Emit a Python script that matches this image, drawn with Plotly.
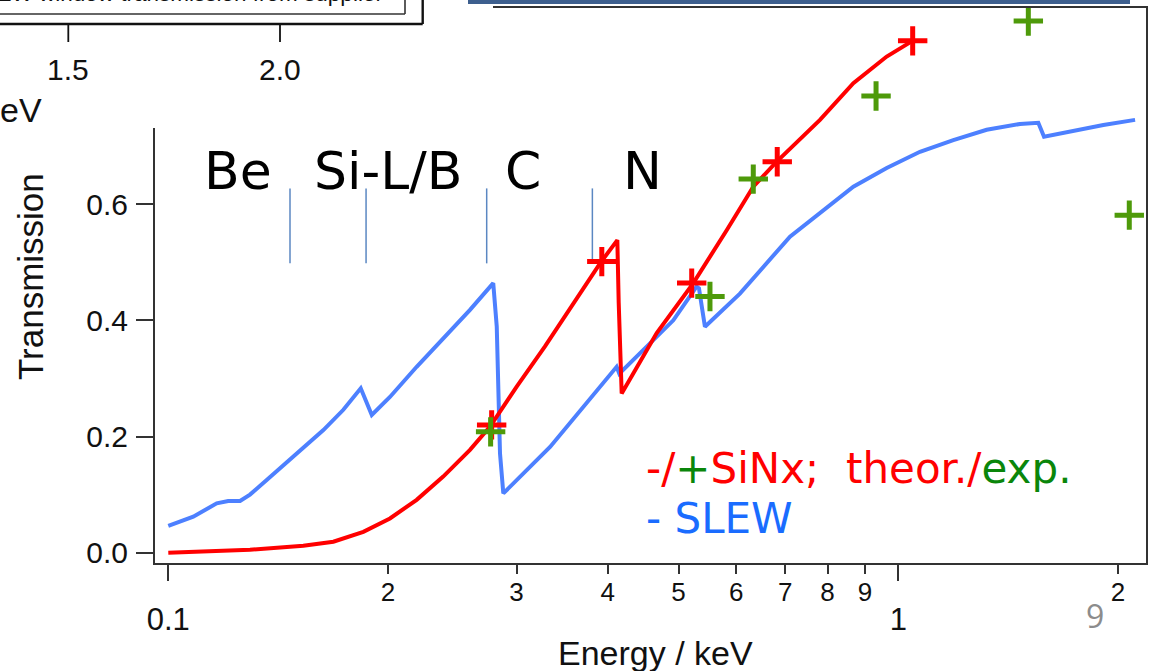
import numpy as np
import plotly.graph_objects as go

# ---------------- data ----------------
slew_E = [0.1000, 0.1082, 0.1165, 0.1208, 0.1254, 0.1294, 0.1364, 0.1483, 0.1631, 0.1737,
          0.1835, 0.1900, 0.2012, 0.2189, 0.2380, 0.2590, 0.2787, 0.2818, 0.2847, 0.2877,
          0.3334, 0.3588, 0.4113, 0.4148, 0.4428, 0.4918, 0.5293, 0.5333, 0.5434, 0.6068,
          0.7106, 0.8320, 0.8678, 0.9641, 1.0707, 1.1895, 1.3214, 1.4677, 1.5552, 1.5835,
          1.7190, 1.9094, 2.1103]
slew_T = [0.046, 0.062, 0.085, 0.089, 0.089, 0.100, 0.125, 0.165, 0.211, 0.246,
          0.283, 0.237, 0.268, 0.320, 0.369, 0.418, 0.464, 0.389, 0.171, 0.102,
          0.182, 0.231, 0.320, 0.308, 0.343, 0.400, 0.458, 0.455, 0.389, 0.446,
          0.544, 0.613, 0.630, 0.662, 0.690, 0.710, 0.728, 0.738, 0.740, 0.716,
          0.725, 0.736, 0.745]

sinx_E = [0.1000, 0.1140, 0.1294, 0.1531, 0.1683, 0.1850, 0.2012, 0.2189, 0.2380, 0.2590,
          0.2759, 0.3001, 0.3281, 0.3903, 0.4122, 0.4140, 0.4179, 0.4667, 0.5238, 0.5820,
          0.6329, 0.6815, 0.7811, 0.8678, 0.9641, 1.0432]
sinx_T = [0.000, 0.002, 0.005, 0.012, 0.019, 0.036, 0.059, 0.091, 0.131, 0.177,
          0.217, 0.286, 0.355, 0.498, 0.538, 0.430, 0.274, 0.378, 0.464, 0.555,
          0.630, 0.673, 0.745, 0.808, 0.854, 0.880]

theor_E = [0.2773, 0.3925, 0.5212, 0.6826, 1.0464]
theor_T = [0.220, 0.501, 0.464, 0.673, 0.881]

exp_E = [0.2764, 0.5521, 0.6329, 0.9322, 1.507, 2.072]
exp_T = [0.208, 0.441, 0.643, 0.786, 0.915, 0.581]

edge_E = [0.1468, 0.1866, 0.2730, 0.3810]
edge_T_low, edge_T_high = 0.498, 0.627

elem_labels = ["Be", "Si-L/B", "C", "N"]
elem_E = [0.1246, 0.2001, 0.3060, 0.4463]
elem_T = 0.657

y_ticks = [0.0, 0.2, 0.4, 0.6]
y_ticktext = ["0.0", "0.2", "0.4", "0.6"]
x_minor = [0.2, 0.3, 0.4, 0.5, 0.6, 0.7, 0.8, 0.9, 2.0]
x_minor_text = ["2", "3", "4", "5", "6", "7", "8", "9", "2"]
x_major = [0.1, 1.0]
x_major_text = ["0.1", "1"]

# ---------------- layout geometry ----------------
W, H = 1153, 671
L, R, T, B = 155, 1146, 8, 563
XR = [-1.0182, 0.3393]
YR = [-0.0177, 0.9375]


def px(x):
    return (x - L) / (R - L)


def py(y):
    return (B - y) / (B - T)


AX = "#333333"
SANS = "Liberation Sans, Arial, sans-serif"
WIDE = "DejaVu Sans, Verdana, sans-serif"

fig = go.Figure()

fig.add_trace(go.Scatter(x=slew_E, y=slew_T, mode="lines",
                         line=dict(color="#4d80ff", width=4), hoverinfo="skip"))
fig.add_trace(go.Scatter(x=sinx_E, y=sinx_T, mode="lines",
                         line=dict(color="#ff0000", width=4), hoverinfo="skip"))

# element edge separators
ex, ey = [], []
for e in edge_E:
    ex += [e, e, None]
    ey += [edge_T_low, edge_T_high, None]
fig.add_trace(go.Scatter(x=ex, y=ey, mode="lines",
                         line=dict(color="#5b87c2", width=1.5), hoverinfo="skip"))

fig.add_trace(go.Scatter(x=theor_E, y=theor_T, mode="markers",
                         marker=dict(symbol="cross-thin", size=21,
                                     line=dict(color="#ff0000", width=5)),
                         hoverinfo="skip"))
fig.add_trace(go.Scatter(x=exp_E, y=exp_T, mode="markers",
                         marker=dict(symbol="cross-thin", size=21,
                                     line=dict(color="#4e9a0a", width=5)),
                         hoverinfo="skip"))
# helper trace for the major-tick axis
fig.add_trace(go.Scatter(x=[], y=[], xaxis="x2", hoverinfo="skip"))

fig.update_layout(
    width=W, height=H,
    margin=dict(l=L, r=W - R, t=T, b=H - B, autoexpand=False),
    paper_bgcolor="white", plot_bgcolor="white",
    showlegend=False,
    xaxis=dict(type="log", range=XR, showgrid=False, zeroline=False,
               showline=True, linecolor=AX, linewidth=2, mirror=True,
               ticks="outside", ticklen=9, tickwidth=1.5, tickcolor=AX,
               tickvals=x_minor, ticktext=x_minor_text,
               tickfont=dict(family="Liberation Sans Narrow, " + SANS, size=26, color="#111"),
               ticklabelstandoff=-4),
    xaxis2=dict(type="log", range=XR, overlaying="x", anchor="y", side="bottom",
                showgrid=False, zeroline=False, showline=False,
                ticks="outside", ticklen=17, tickwidth=1.5, tickcolor=AX,
                tickvals=x_major, ticktext=x_major_text,
                tickfont=dict(family=SANS, size=31, color="#111"),
                ticklabelstandoff=12),
    yaxis=dict(range=YR, showgrid=False, zeroline=False,
               showline=True, linecolor=AX, linewidth=2, mirror=True,
               ticks="outside", ticklen=17, tickwidth=1.5, tickcolor=AX,
               tickvals=y_ticks, ticktext=y_ticktext,
               tickfont=dict(family=SANS, size=30, color="#111"),
               ticklabelstandoff=2),
)

shapes = []
# overlay of the inset picture (top-left)
shapes.append(dict(type="rect", xref="paper", yref="paper", layer="above",
                   x0=px(-20), x1=px(493), y0=py(128), y1=py(-20),
                   fillcolor="white", line=dict(width=0)))
# inset frame remnants
for (x0, y0, x1, y1, w, c) in [(-20, 24, 422.7, 24, 2.4, "#111"),
                               (422.7, -20, 422.7, 24, 2.4, "#111"),
                               (-20, 14, 405, 14, 1.6, "#333"),
                               (405, -20, 405, 14, 1.6, "#333"),
                               (68.3, 25, 68.3, 42, 1.8, "#111"),
                               (280, 25, 280, 42, 1.8, "#111")]:
    shapes.append(dict(type="line", xref="paper", yref="paper", layer="above",
                       x0=px(x0), x1=px(x1), y0=py(y0), y1=py(y1),
                       line=dict(color=c, width=w)))
# title bar edge at top
shapes.append(dict(type="rect", xref="paper", yref="paper", layer="above",
                   x0=px(468), x1=px(1130), y0=py(4), y1=py(-20),
                   fillcolor="#3d5f8e", line=dict(width=0)))
fig.update_layout(shapes=shapes)

ann = []
for lab, e in zip(elem_labels, elem_E):
    ann.append(dict(x=np.log10(e), y=elem_T, xref="x", yref="y", text=lab,
                    showarrow=False, xanchor="center", yanchor="middle",
                    font=dict(family=WIDE, size=52, color="black")))

ann.append(dict(x=px(644), y=py(468), xref="paper", yref="paper", showarrow=False,
                xanchor="left", yanchor="middle",
                text=("<span style='color:#ff0000'>-/</span>"
                      "<span style='color:#0a860a'>+</span>"
                      "<span style='color:#ff0000'>SiNx;  theor./</span>"
                      "<span style='color:#0a860a'>exp.</span>"),
                font=dict(family=WIDE, size=42)))
ann.append(dict(x=px(644), y=py(518), xref="paper", yref="paper", showarrow=False,
                xanchor="left", yanchor="middle", text="- SLEW",
                font=dict(family=WIDE, size=42, color="#1a6cff")))

ann.append(dict(x=px(30), y=py(277), xref="paper", yref="paper", showarrow=False,
                text="Transmission", textangle=-90, xanchor="center", yanchor="middle",
                font=dict(family=SANS, size=35, color="#111")))
ann.append(dict(x=px(655), y=py(653), xref="paper", yref="paper", showarrow=False,
                text="Energy / keV", xanchor="center", yanchor="middle",
                font=dict(family=SANS, size=34, color="#111")))

# inset remnants text
ann.append(dict(x=px(68.3), y=py(69), xref="paper", yref="paper", showarrow=False,
                text="1.5", xanchor="center", yanchor="middle",
                font=dict(family=SANS, size=30, color="#111")))
ann.append(dict(x=px(280), y=py(69), xref="paper", yref="paper", showarrow=False,
                text="2.0", xanchor="center", yanchor="middle",
                font=dict(family=SANS, size=30, color="#111")))
ann.append(dict(x=px(-2), y=py(110), xref="paper", yref="paper", showarrow=False,
                text="eV", xanchor="left", yanchor="middle",
                font=dict(family=SANS, size=34, color="#111")))
ann.append(dict(x=px(385), y=py(8), xref="paper", yref="paper", showarrow=False,
                text="SLEW window transmission from supplier", xanchor="right", yanchor="bottom",
                font=dict(family=SANS, size=22.5, color="#111")))

# slide page number
ann.append(dict(x=px(1095), y=py(615), xref="paper", yref="paper", showarrow=False,
                text="9", xanchor="center", yanchor="middle",
                font=dict(family="Open Sans, sans-serif", size=32, color="#8c8c8c")))

fig.update_layout(annotations=ann)

fig.write_html("out.html", config={"displayModeBar": False})
